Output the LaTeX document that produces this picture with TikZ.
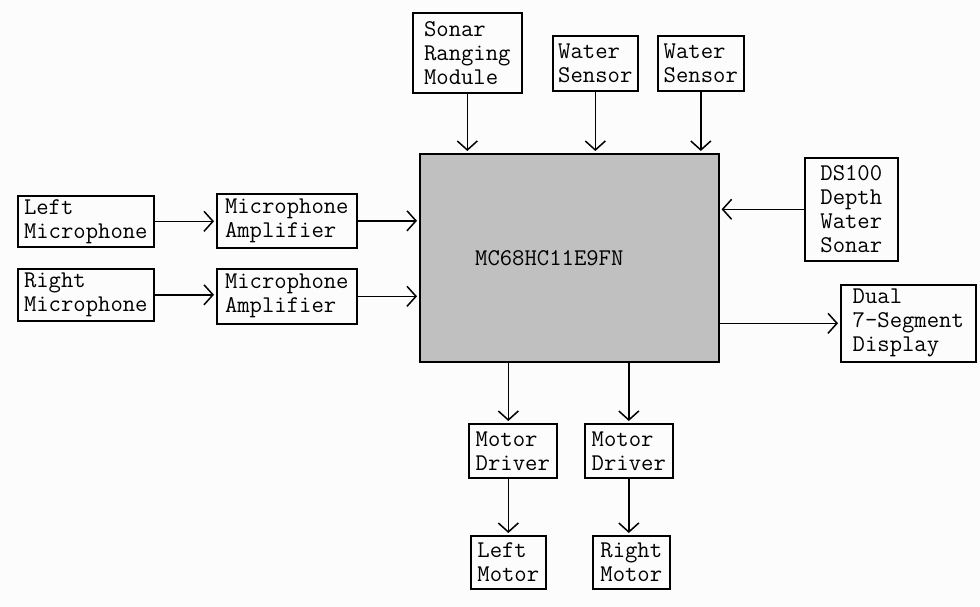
\documentclass[tikz,border=0pt]{standalone}
\usepackage{fontspec}
\usetikzlibrary{arrows.meta}
\definecolor{chipgray}{RGB}{192,192,192}
\definecolor{paper}{RGB}{252,252,252}
\tikzset{
  blk/.style 2 args={draw, line width=1.6pt, anchor=north west, minimum width=#1, minimum height=#2,
    inner sep=0pt, align=left, font=\ttfamily\fontsize{24}{24}\selectfont},
  arr/.style={->, line width=1.5pt, shorten >=2pt},
}

\begin{document}
\begin{tikzpicture}[x=1pt, y=-1pt, >={Straight Barb[length=9pt,width=20pt]}]
\fill[paper] (0,0) rectangle (980,607);
\useasboundingbox (0,0) rectangle (980,607);
\node[blk={299pt}{208pt}, fill=chipgray, label={[xshift=-20pt, font=\ttfamily\fontsize{24}{24}\selectfont]center:MC68HC11E9FN}] (mcu) at (419,153) {};
\node[blk={136pt}{51pt}] (lmic) at (17,195) {Left\\Microphone};
\node[blk={136pt}{52pt}] (rmic) at (17,268) {Right\\Microphone};
\node[blk={140pt}{54pt}] (amp1) at (216,193) {Microphone\\Amplifier};
\node[blk={140pt}{55pt}] (amp2) at (216,268) {Microphone\\Amplifier};
\node[blk={109pt}{80pt}] (sonar) at (412,12) {Sonar\\Ranging\\Module};
\node[blk={85pt}{55pt}] (ws1) at (552,35) {Water\\Sensor};
\node[blk={86pt}{55pt}] (ws2) at (657,35) {Water\\Sensor};
\node[blk={93pt}{103pt}] (ds) at (804,157) {DS100\\Depth\\Water\\Sonar};
\node[blk={135pt}{77pt}] (disp) at (840,284) {Dual\\7-Segment\\Display};
\node[blk={88pt}{54pt}] (drv1) at (468,423) {Motor\\Driver};
\node[blk={88pt}{54pt}] (drv2) at (584,423) {Motor\\Driver};
\node[blk={75pt}{53pt}] (lmot) at (470,535) {Left\\Motor};
\node[blk={77pt}{53pt}] (rmot) at (592,535) {Right\\Motor};
\draw[arr] (lmic.east) -- (lmic.east -| amp1.west);
\draw[arr] (rmic.east) -- (rmic.east -| amp2.west);
\draw[arr] (amp1.east) -- (amp1.east -| mcu.west);
\draw[arr] (amp2.east) -- (amp2.east -| mcu.west);
\foreach \s in {sonar,ws1,ws2}
  \draw[arr] (\s.south) -- (\s.south |- mcu.north);
\draw[arr] (ds.west) -- (ds.west -| mcu.east);
\draw[arr] (disp.west -| mcu.east) -- (disp.west);
\draw[arr] (mcu.south -| lmot.north) -- (drv1.north -| lmot.north);
\draw[arr] (drv1.south -| lmot.north) -- (lmot.north);
\draw[arr] (mcu.south -| drv2.north) -- (drv2.north);
\draw[arr] (drv2.south) -- (drv2.south |- rmot.north);
\end{tikzpicture}
\end{document}
